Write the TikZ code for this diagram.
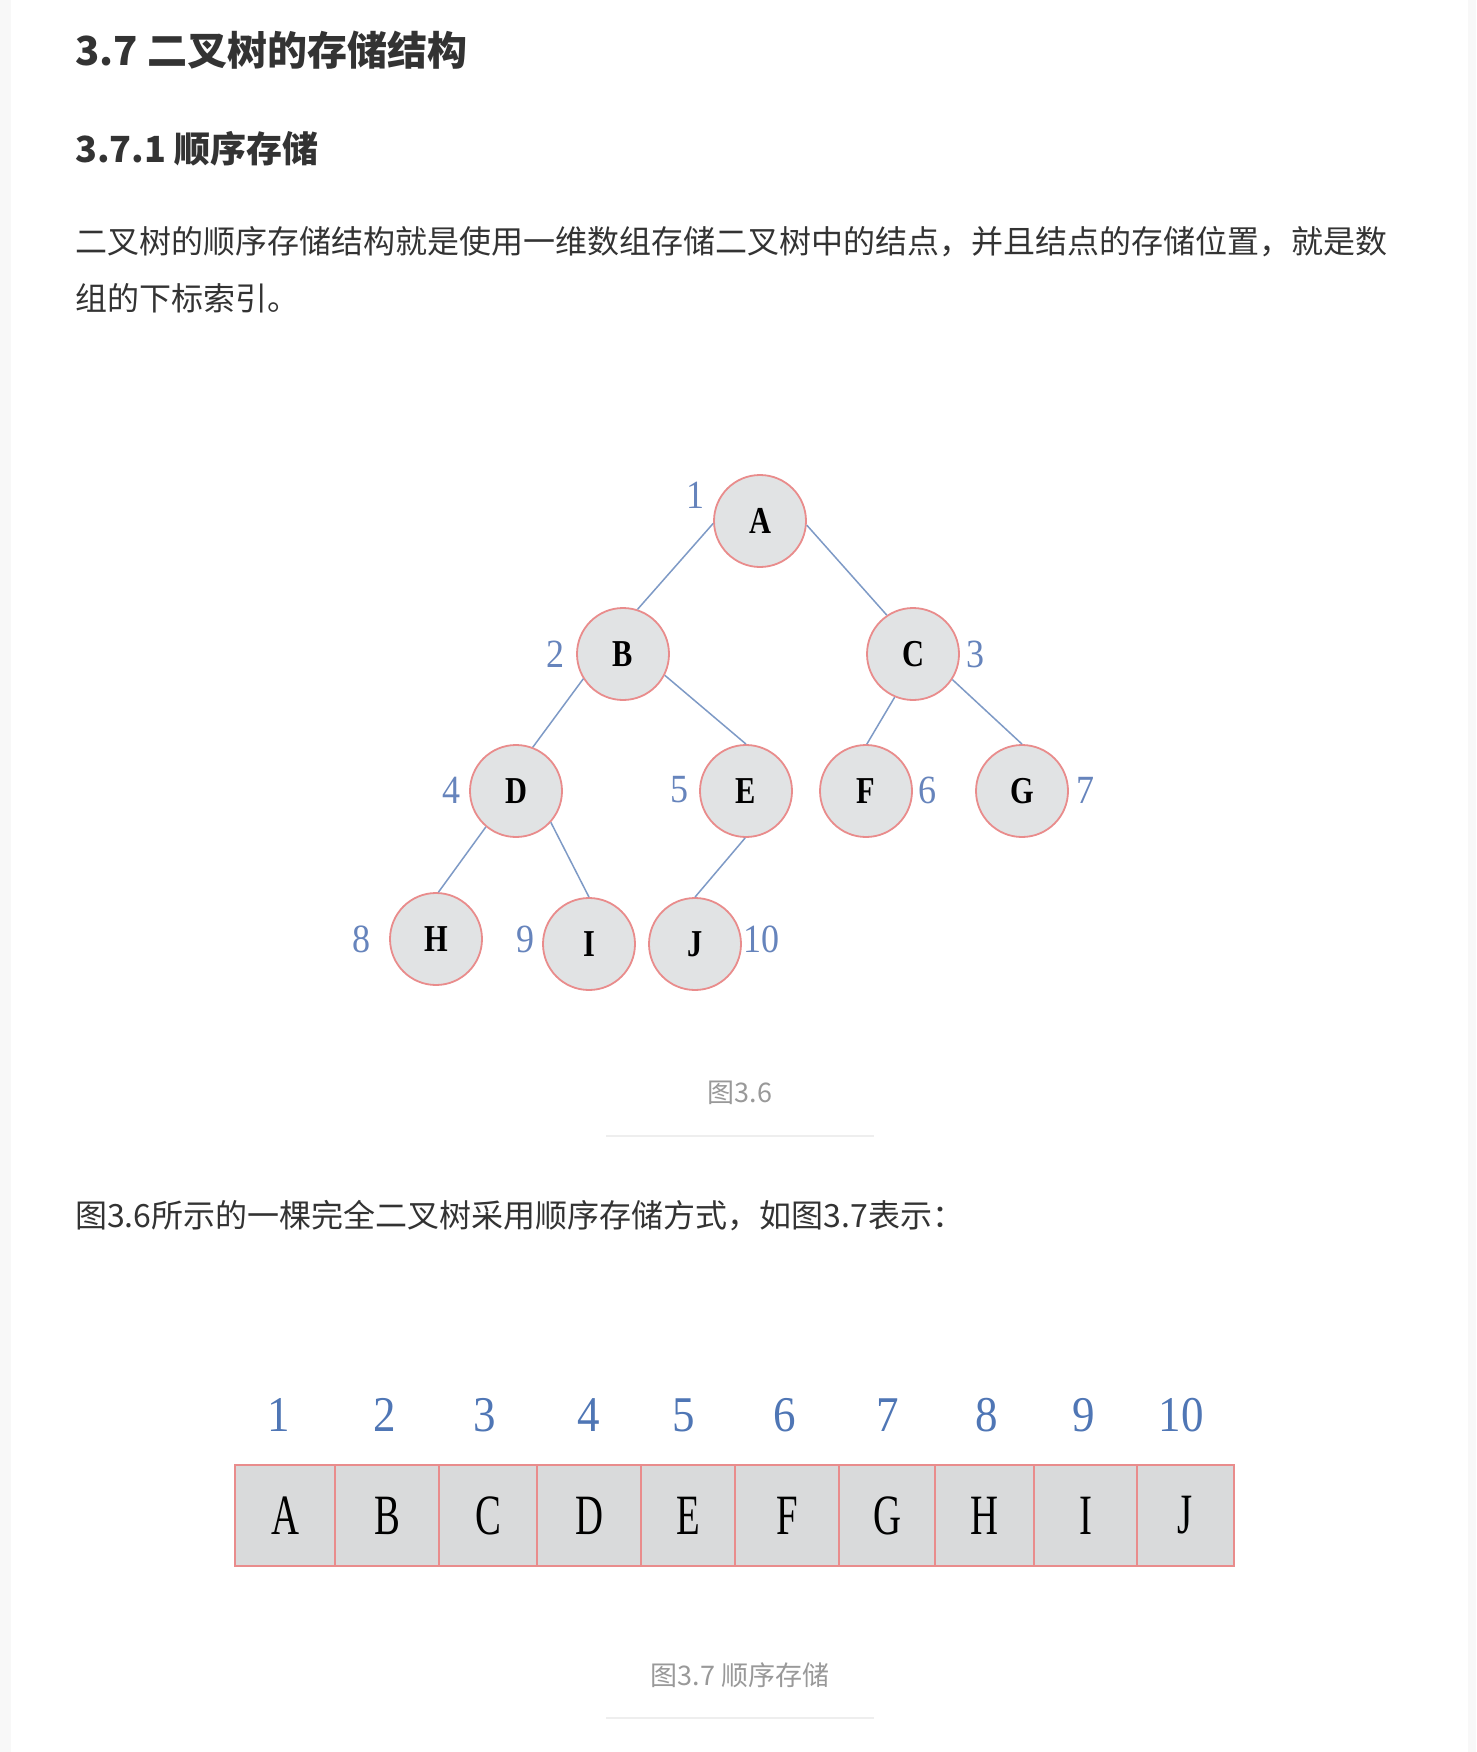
\documentclass[tikz,border=0pt]{standalone}
\usepackage{fontspec}
\newfontfamily\cjk{Noto Sans CJK SC}
\newfontfamily\serifidx[FakeStretch=0.9]{Liberation Serif}
\newfontfamily\serifcell[FakeStretch=0.68]{Liberation Serif}
\newfontfamily\serifnode[FakeStretch=0.8]{Liberation Serif}
\definecolor{txt}{HTML}{333333}
\definecolor{capc}{HTML}{999999}
\definecolor{sepc}{HTML}{EEEEEE}
\definecolor{stripc}{HTML}{F8F8F8}
\definecolor{nodefill}{HTML}{E1E3E4}
\definecolor{nodeline}{HTML}{E98C8C}
\definecolor{edgec}{HTML}{7E9AC6}
\definecolor{idxc}{HTML}{6684BC}
\definecolor{idxb}{HTML}{4F76B5}
\definecolor{cellfill}{HTML}{D9DADB}
\begin{document}
\begin{tikzpicture}[x=1pt,y=-1pt,
  txtline/.style={anchor=west,inner sep=0pt,text=txt},
  captext/.style={inner sep=0pt,text=capc,font=\cjk\fontsize{27}{30}\selectfont},
  tnode/.style={circle,draw=nodeline,line width=1.8pt,fill=nodefill,minimum size=92pt,inner sep=0pt,
    font=\serifnode\bfseries\fontsize{38}{40}\selectfont},
  tlabel/.style={inner sep=0pt,text=idxc,font=\serifidx\fontsize{40}{42}\selectfont},
  edgeline/.style={draw=edgec,line width=1.5pt},
  cell/.style={rectangle,draw=nodeline,line width=1.8pt,fill=cellfill,minimum height=101pt,inner sep=0pt,
    font=\serifcell\fontsize{57}{60}\selectfont},
  alabel/.style={inner sep=0pt,text=idxb,font=\serifidx\fontsize{50}{52}\selectfont},
  sepline/.style={draw=sepc,line width=2pt}]
\useasboundingbox (0,0) rectangle (1476,1752);
\fill[white] (0,0) rectangle (1476,1752);
\fill[stripc] (0,0) rectangle (11,1752);
\fill[stripc] (1468,0) rectangle (1476,1752);

% headings and text
\node[txtline,font=\cjk\bfseries\fontsize{40}{48}\selectfont] (title) at (75,50) {3.7 二叉树的存储结构};
\node[txtline,font=\cjk\bfseries\fontsize{36}{42}\selectfont] (sub) at (75,149) {3.7.1 顺序存储};
\node[txtline,font=\cjk\fontsize{32}{40}\selectfont] (p1a) at (75,242) {二叉树的顺序存储结构就是使用一维数组存储二叉树中的结点，并且结点的存储位置，就是数};
\node[txtline,font=\cjk\fontsize{32}{40}\selectfont] (p1b) at (75,298) {组的下标索引。};
\node[txtline,font=\cjk\fontsize{32}{40}\selectfont] (p2) at (75,1216) {图3.6所示的一棵完全二叉树采用顺序存储方式，如图3.7表示：};

% tree
\node[tnode] (A) at (760,521) {A};
\node[tnode] (B) at (623,654) {B};
\node[tnode] (C) at (913,654) {C};
\node[tnode] (D) at (516,791) {D};
\node[tnode] (E) at (746,791) {E};
\node[tnode] (F) at (866,791) {F};
\node[tnode] (G) at (1022,791) {G};
\node[tnode] (H) at (436,939) {H};
\node[tnode] (I) at (589,944) {I};
\node[tnode] (J) at (695,944) {J};

\draw[edgeline] (A.183) -- (B.72);
\draw[edgeline] (A.355) -- (C.124);
\draw[edgeline] (B.212) -- (D.69);
\draw[edgeline] (B.333) -- (E.90);
\draw[edgeline] (C.247) -- (F.89);
\draw[edgeline] (C.327) -- (G.90);
\draw[edgeline] (D.230) -- (H.87);
\draw[edgeline] (D.318) -- (I.90);
\draw[edgeline] (E.269) -- (J.90);

\node[tlabel] (l1) at (695,495) {1};
\node[tlabel] (l2) at (555,654) {2};
\node[tlabel] (l3) at (975,654) {3};
\node[tlabel] (l4) at (451,790) {4};
\node[tlabel] (l5) at (679,790) {5};
\node[tlabel] (l6) at (927,790) {6};
\node[tlabel] (l7) at (1085,790) {7};
\node[tlabel] (l8) at (361,939) {8};
\node[tlabel] (l9) at (525,939) {9};
\node[tlabel] (l10) at (761,939) {10};

\node[captext] (cap1) at (740,1093) {图3.6};
\draw[sepline] (606,1136) -- (874,1136);

% array
\node[cell,minimum width=100pt] (cA) at (285,1515.5) {A};
\node[cell,minimum width=104pt] (cB) at (387,1515.5) {B};
\node[cell,minimum width=98pt] (cC) at (488,1515.5) {C};
\node[cell,minimum width=104pt] (cD) at (589,1515.5) {D};
\node[cell,minimum width=94pt] (cE) at (688,1515.5) {E};
\node[cell,minimum width=104pt] (cF) at (787,1515.5) {F};
\node[cell,minimum width=96pt] (cG) at (887,1515.5) {G};
\node[cell,minimum width=99pt] (cH) at (984.5,1515.5) {H};
\node[cell,minimum width=103pt] (cI) at (1085.5,1515.5) {I};
\node[cell,minimum width=97pt] (cJ) at (1185.5,1515.5) {J};

\node[alabel] (a1) at (279,1415) {1};
\node[alabel] (a2) at (385,1415) {2};
\node[alabel] (a3) at (485,1415) {3};
\node[alabel] (a4) at (589,1415) {4};
\node[alabel] (a5) at (684,1415) {5};
\node[alabel] (a6) at (785,1415) {6};
\node[alabel] (a7) at (888,1415) {7};
\node[alabel] (a8) at (987,1415) {8};
\node[alabel] (a9) at (1084,1415) {9};
\node[alabel] (a10) at (1181,1415) {10};

\node[captext] (cap2) at (740,1675) {图3.7 顺序存储};
\draw[sepline] (606,1718) -- (874,1718);
\end{tikzpicture}
\end{document}
